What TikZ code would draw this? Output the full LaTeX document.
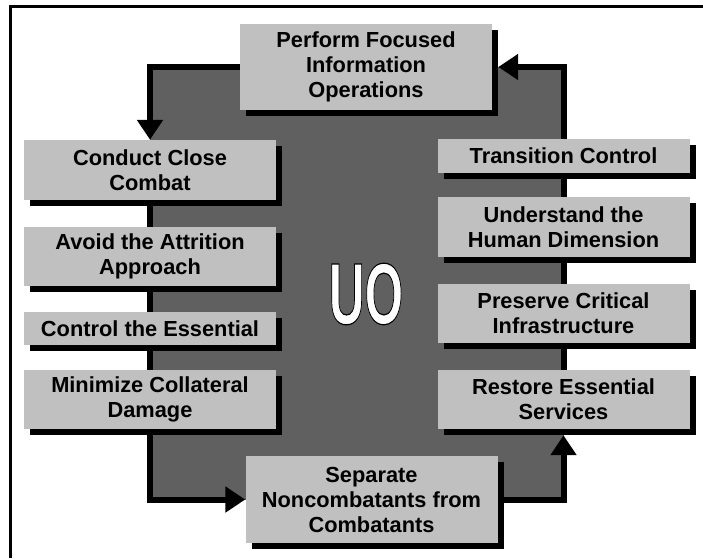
\documentclass[tikz,border=0pt]{standalone}
\usepackage{fontspec}
\setmainfont{Liberation Sans}
\usetikzlibrary{arrows.meta,shadows}
\definecolor{boxgray}{RGB}{192,192,192}
\definecolor{loopgray}{RGB}{96,96,96}
\newcommand{\outlined}[1]{\textcolor{white}{\special{pdf:literal direct 2 Tr 0 G 1.2 w}#1\special{pdf:literal direct 0 Tr}}}

\begin{document}
\begin{tikzpicture}
      [x=1pt,y=-1pt,
       task/.style={rectangle,fill=boxgray,inner sep=0pt,minimum width=252pt,align=center,
         font=\bfseries\fontsize{21.8}{25}\selectfont,
         general shadow={fill=black,shadow xshift=6pt,shadow yshift=-6pt}},
       flow/.style={line width=6pt,line join=miter},
       flowarrow/.style={flow,-{Triangle[length=20pt,width=25pt]}}]
      \useasboundingbox (0,0) rectangle (703,558);
      \draw[line width=3pt] (703,6.5) -- (10.5,6.5) -- (10.5,558);
      \fill[loopgray] (150,67) rectangle (563.5,499.5);
      % top and bottom
      \node[task,minimum height=86pt] (focus) at (366,67) {Perform Focused\\Information\\Operations};
      \node[task,minimum height=87pt] (separate) at (371.5,499.5) {Separate\\Noncombatants from\\Combatants};
      % left column
      \node[task,minimum height=60pt] (close) at (150,170) {Conduct Close\\Combat};
      \node[task,minimum height=59pt] (attrition) at (150,256.5) {Avoid the Attrition\\Approach};
      \node[task,minimum height=33pt] (essential) at (150,328.5) {Control the Essential};
      \node[task,minimum height=59pt] (collateral) at (150,399.5) {Minimize Collateral\\Damage};
      % right column
      \node[task,minimum height=34pt] (transition) at (563.5,156) {Transition Control};
      \node[task,minimum height=60pt] (human) at (563.5,227) {Understand the\\Human Dimension};
      \node[task,minimum height=59pt] (infra) at (563.5,313.5) {Preserve Critical\\Infrastructure};
      \node[task,minimum height=59pt] (services) at (563.5,399.5) {Restore Essential\\Services};
      \node[font=\bfseries\fontsize{87}{87}\selectfont] (uo) at (366,294)
        {\scalebox{0.57}[1]{\outlined{UO}}};
      % the loop
      \draw[flowarrow] (focus.west) -| (close.north);
      \draw[flow] (close.south) -- (attrition.north);
      \draw[flow] (attrition.south) -- (essential.north);
      \draw[flow] (essential.south) -- (collateral.north);
      \draw[flowarrow] (collateral.south) |- (separate.west);
      \draw[flowarrow] ([xshift=6pt]separate.east) -| ([yshift=-6pt]services.south);
      \draw[flow] (services.north) -- (infra.south);
      \draw[flow] (infra.north) -- (human.south);
      \draw[flow] (human.north) -- (transition.south);
      \draw[flowarrow] (transition.north) |- ([xshift=6pt]focus.east);
\end{tikzpicture}
\end{document}
